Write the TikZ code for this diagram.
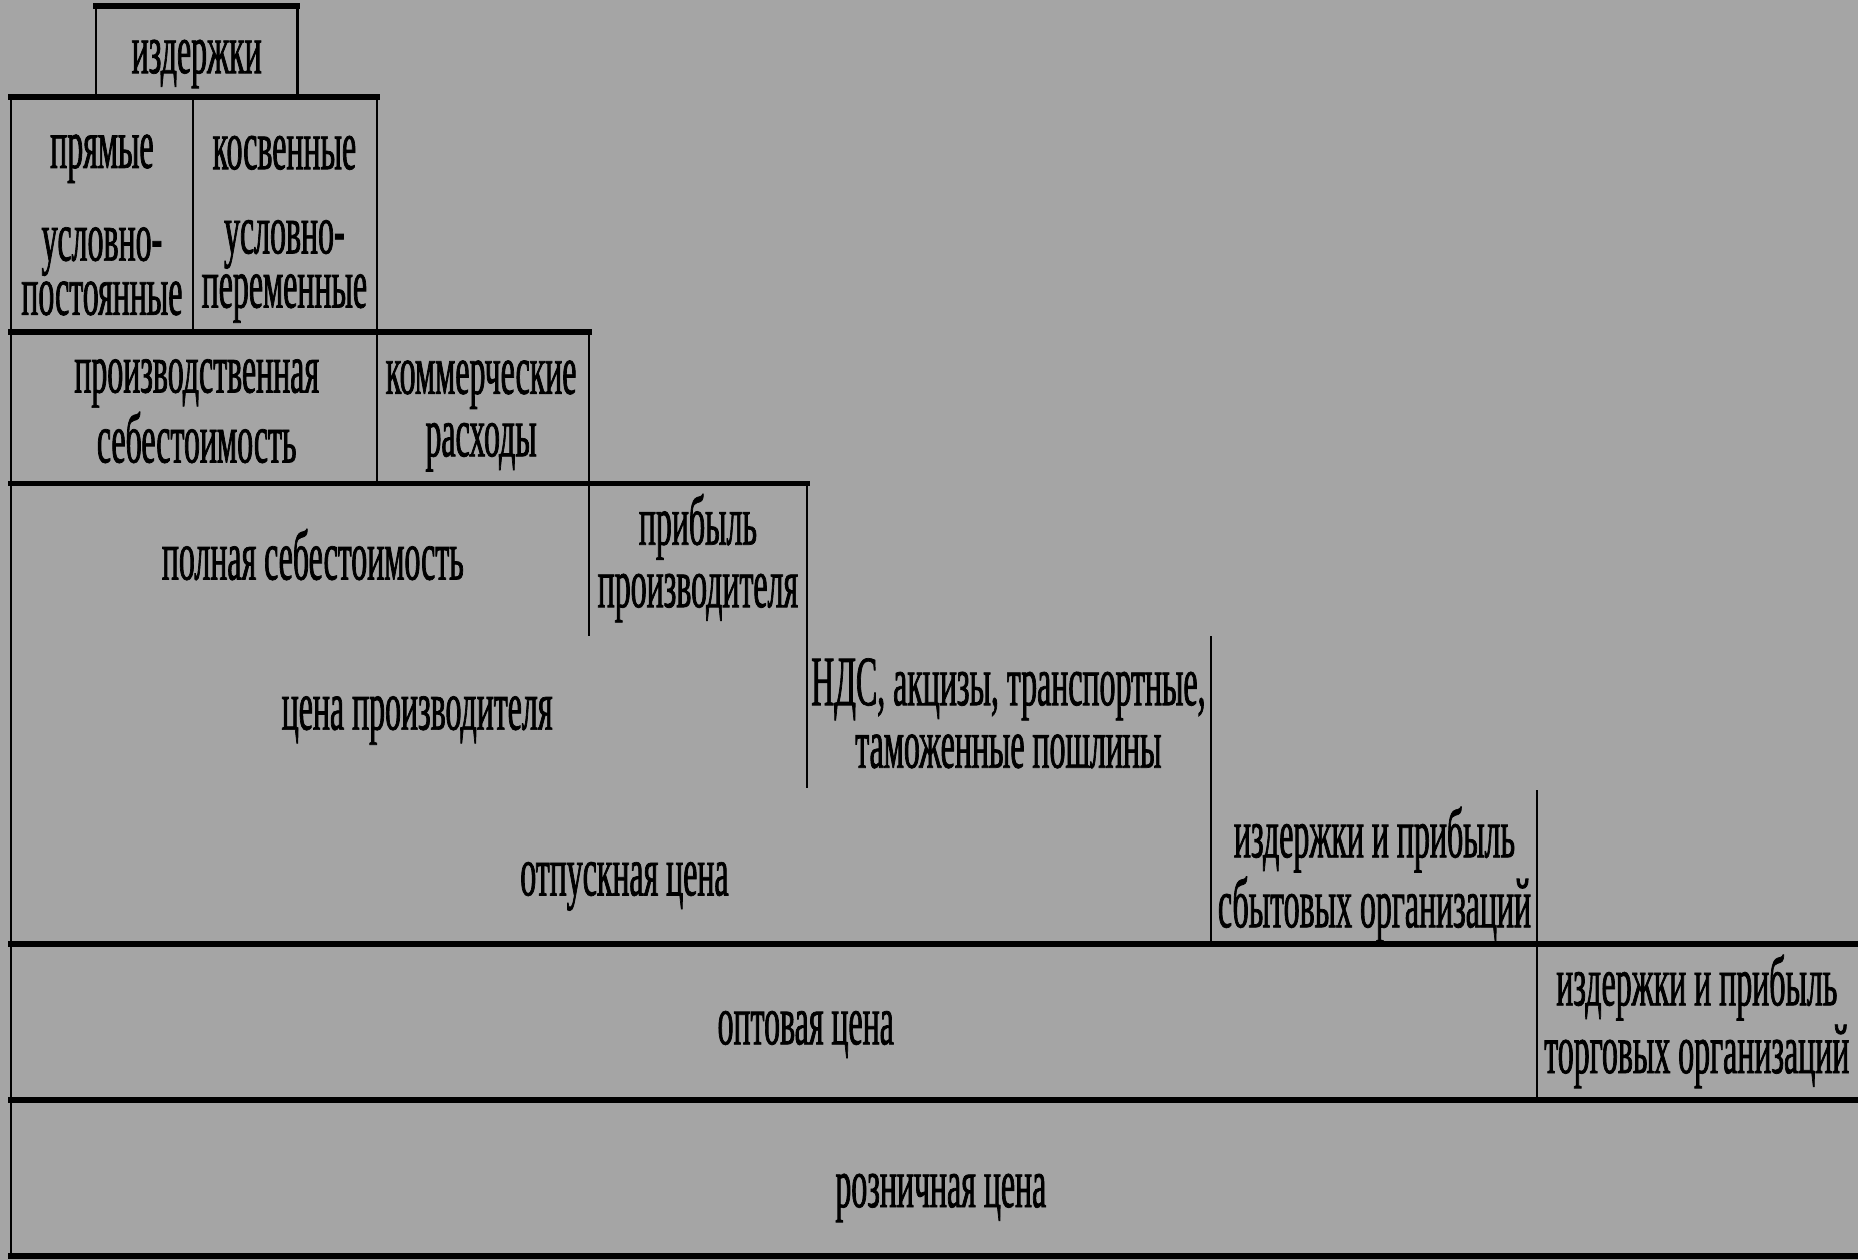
\documentclass[tikz,border=0pt]{standalone}
\usepackage{fontspec}
\setmainfont{Liberation Serif}[FakeStretch=0.45,FakeBold=1]
\definecolor{sheet}{RGB}{165,165,165}
\begin{document}
\begin{tikzpicture}[x=0.01cm,y=-0.01cm,
  celltext/.style={font=\fontsize{17}{15}\selectfont, align=center, inner sep=0pt, text=black},
  rule/.style={line width=1.4pt, line cap=rect},
  sep/.style={line width=0.55pt}]
% sheet
\fill[sheet] (0,0) rectangle (1568,1063);
\useasboundingbox (0,0) rectangle (1568,1063);

% horizontal rules
\draw[rule] (81,5) -- (251,5);
\draw[rule] (9,82) -- (318,82);
\draw[rule] (9,280) -- (497,280);
\draw[rule] (9,408) -- (681,408);
\draw[rule] (9,797) -- (1568,797);
\draw[rule] (9,928) -- (1568,928);
\draw[rule] (9,1060) -- (1568,1060);

% vertical separators
\draw[sep] (81,5) -- (81,82);
\draw[sep] (251,5) -- (251,82);
\draw[sep] (9,82) -- (9,1060);
\draw[sep] (163,82) -- (163,280);
\draw[sep] (318,82) -- (318,408);
\draw[sep] (497,280) -- (497,537);
\draw[sep] (681,408) -- (681,665);
\draw[sep] (1022,537) -- (1022,797);
\draw[sep] (1297,667) -- (1297,928);

% labels
\node[celltext] (costs) at (166,54) {издержки};
\node[celltext] (direct) at (86,134) {прямые};
\node[celltext, font=\fontsize{17}{13}\selectfont] (fixed) at (86,229) {условно-\\постоянные};
\node[celltext] (indirect) at (240,129) {косвенные};
\node[celltext, font=\fontsize{17}{13}\selectfont] (variable) at (240,229) {условно-\\переменные};
\node[celltext] (prodcost) at (166,347) {производственная\\себестоимость};
\node[celltext] (commerce) at (406,351) {коммерческие\\расходы};
\node[celltext] (fullcost) at (264,468) {полная себестоимость};
\node[celltext] (profit) at (589,471) {прибыль\\производителя};
\node[celltext] (prodprice) at (352,608) {цена производителя};
\node[celltext] (taxes) at (851,602) {НДС, акцизы, транспортные,\\таможенные пошлины};
\node[celltext] (release) at (527,748) {отпускная цена};
\node[celltext] (sales) at (1160,738) {издержки и прибыль\\сбытовых организаций};
\node[celltext] (wholesale) at (680,873) {оптовая цена};
\node[celltext] (trade) at (1432,862) {издержки и прибыль\\торговых организаций};
\node[celltext] (retail) at (794,1011) {розничная цена};
\end{tikzpicture}
\end{document}
